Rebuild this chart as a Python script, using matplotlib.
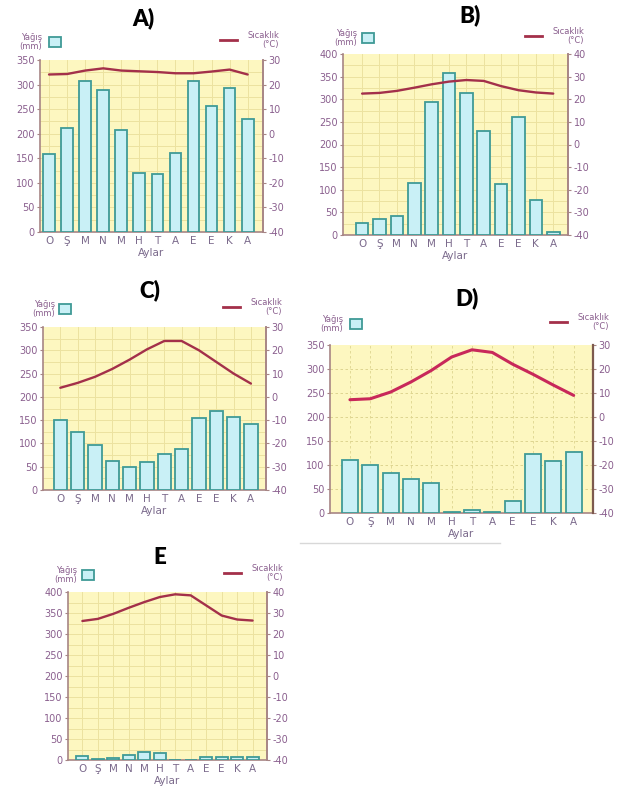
import matplotlib
matplotlib.use("Agg")
import matplotlib.pyplot as plt
from matplotlib.patches import Rectangle
from matplotlib.lines import Line2D
import numpy as np

plt.rcParams['axes.unicode_minus'] = False

W, H = 632, 787

months = ['O', 'Ş', 'M', 'N', 'M', 'H', 'T', 'A', 'E', 'E', 'K', 'A']

# yağış (mm) ve sıcaklık (°C) değerleri
rain_a = [158, 212, 308, 289, 208, 121, 118, 160, 308, 256, 293, 229]
temp_a = [24.1, 24.3, 25.7, 26.6, 25.7, 25.4, 25.1, 24.6, 24.6, 25.3, 26.1, 24.1]
rain_b = [27, 35, 43, 116, 294, 358, 314, 230, 112, 260, 77, 6]
temp_b = [22.5, 22.8, 23.7, 25.1, 26.6, 27.8, 28.5, 28.1, 25.8, 24.0, 23.0, 22.5]
rain_c = [150, 125, 96, 63, 50, 61, 77, 89, 155, 170, 157, 141]
temp_c = [3.9, 6.0, 8.6, 12.0, 16.0, 20.4, 24.0, 24.0, 20.0, 15.0, 10.0, 5.7]
rain_d = [111, 99, 84, 70, 62, 3, 6, 2, 25, 122, 108, 128]
temp_d = [7.2, 7.6, 10.4, 14.6, 19.4, 25.0, 28.0, 26.9, 22.0, 17.8, 13.3, 9.0]
rain_e = [10, 3, 4, 12, 18, 16, 0, 0, 6, 6, 6, 8]
temp_e = [26.2, 27.2, 29.6, 32.5, 35.2, 37.6, 38.9, 38.4, 33.6, 28.8, 26.9, 26.4]

BG = '#fdf7c0'
GRID = '#ece2a0'
BAR = '#c9f0f6'
EDGE = '#3f9a96'
LINE = '#a3304a'
TXT = '#8a5f8e'
SPINE = '#a78585'


def fx(x):
    return x / W


def fy(y):
    return 1 - y / H


def panel(fig, title, tpos, box, rain, temp, rmax, tlo, thi, xl, bw, leg, dashed=False):
    l, t, r, b = box
    ax = fig.add_axes([fx(l), fy(b), (r - l) / W, (b - t) / H])
    ax.set_facecolor(BG)
    x = np.arange(12)
    ax.bar(x, rain, width=bw, color=BAR, edgecolor=EDGE, linewidth=1.3, zorder=3)
    ax.set_xlim(*xl)
    ax.set_ylim(0, rmax)
    ax.set_yticks(np.arange(0, rmax + 1, 50))
    ax.set_xticks(x)
    ax.set_xticklabels(months)
    if dashed:
        for v in np.arange(50, rmax, 50):
            ax.axhline(v, color='#d8cf88', lw=0.6, ls=(0, (3, 3)), zorder=1)
        for v in x:
            ax.axvline(v, color='#ddd590', lw=0.6, ls=(0, (3, 3)), zorder=1)
    else:
        for v in np.arange(25, rmax, 25):
            ax.axhline(v, color=GRID, lw=0.7, zorder=1)
        for v in x:
            ax.axvline(v, color=GRID, lw=0.7, zorder=1)
    ax.tick_params(axis='y', colors=SPINE, labelcolor=TXT, labelsize=7, length=2, pad=2)
    ax.tick_params(axis='x', length=0, labelcolor='#7b6a8c', labelsize=7.5, pad=3)
    ax.set_xlabel('Aylar', color='#7b6a8c', fontsize=7.5, labelpad=1)
    ax.spines['top'].set_visible(False)
    for s in ['left', 'bottom', 'right']:
        ax.spines[s].set_color(SPINE)
        ax.spines[s].set_linewidth(1.2)

    ax2 = ax.twinx()
    ax2.plot(x, temp, color=LINE if not dashed else '#c8285a', lw=1.7 if not dashed else 2.2,
             solid_joinstyle='round', solid_capstyle='round', zorder=4)
    ax2.set_ylim(tlo, thi)
    ax2.set_yticks(np.arange(tlo, thi + 1, 10))
    ax2.tick_params(axis='y', colors=SPINE, labelcolor=TXT, labelsize=7, length=2, pad=2)
    ax2.spines['top'].set_visible(False)
    ax2.spines['left'].set_visible(False)
    ax2.spines['bottom'].set_visible(False)
    ax2.spines['right'].set_color('#7d5a4e' if dashed else SPINE)
    ax2.spines['right'].set_linewidth(1.6 if dashed else 1.2)

    # başlık
    fig.text(fx(tpos[0]), fy(tpos[1]), title, fontsize=16, fontweight='heavy',
             family='Lato', ha='center', va='center')

    # sol açıklama (yağış)
    sx, tx, dy = leg
    ly = t - dy
    fig.add_artist(Rectangle((fx(l + sx - 6), fy(ly + 5)), 12 / W, 10 / H,
                             facecolor=BAR, edgecolor=EDGE, lw=1.3,
                             transform=fig.transFigure))
    fig.text(fx(l + tx), fy(ly), 'Yağış\n(mm)', fontsize=6, color=TXT,
             ha='right', va='center', linespacing=0.95, multialignment='right')
    # sağ açıklama (sıcaklık)
    fig.add_artist(Line2D([fx(r - 43), fx(r - 26)], [fy(ly - 2), fy(ly - 2)],
                          color=LINE, lw=2, transform=fig.transFigure))
    fig.text(fx(r + 16), fy(ly - 2), 'Sıcaklık\n(°C)', fontsize=6, color=TXT,
             ha='right', va='center', linespacing=0.95, multialignment='right')
    return ax


fig = plt.figure(figsize=(W / 100, H / 100), dpi=100)
fig.patch.set_facecolor('white')

panel(fig, 'A)', (143, 18), (40, 60, 263, 232), rain_a, temp_a, 350, -40, 30,
      (-0.5, 11.85), 0.65, (15, 2, 18))
panel(fig, 'B)', (470, 15), (343, 54, 568, 235), rain_b, temp_b, 400, -40, 40,
      (-1.1, 11.85), 0.73, (25, 14, 16))
panel(fig, 'C)', (150, 290), (43, 327, 266, 490), rain_c, temp_c, 350, -40, 30,
      (-1.0, 11.87), 0.77, (22, 12, 18))
panel(fig, 'D)', (467, 298), (330, 345, 593, 513), rain_d, temp_d, 350, -40, 30,
      (-0.98, 11.95), 0.78, (26, 13, 21), dashed=True)
panel(fig, 'E', (160, 557), (68, 592, 267, 760), rain_e, temp_e, 400, -40, 40,
      (-0.93, 11.93), 0.78, (20, 9, 17))

fig.add_artist(Line2D([fx(300), fx(500)], [fy(543), fy(543)], color='#d8d8d8',
                      lw=1, transform=fig.transFigure))

fig.savefig('out.png', dpi=100)
